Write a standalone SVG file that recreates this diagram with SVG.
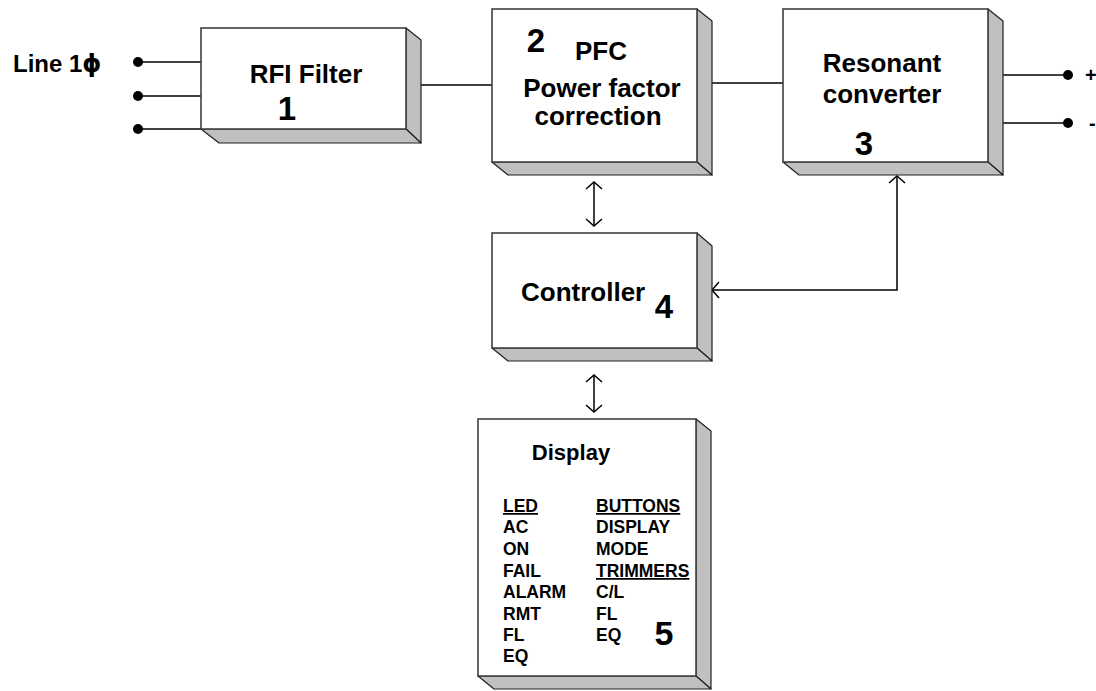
<svg xmlns="http://www.w3.org/2000/svg" width="1096" height="691" viewBox="0 0 1096 691">
  <style>
    .front { fill: #ffffff; stroke: #404040; stroke-width: 1.6; }
    .side { fill: #c0c0c0; stroke: #202020; stroke-width: 1.2; stroke-linejoin: round; }
    .wire { fill: none; stroke: #000000; stroke-width: 1.5; }
    .dot { fill: #000000; }
    .lbl { font-family: "Liberation Sans", Arial, sans-serif; font-weight: bold; fill: #000000; }
    .big { font-size: 26px; }
    .num { font-size: 33px; }
    .small { font-size: 17.5px; }
  </style>
  <defs>
    <marker id="chev" viewBox="-10 -10 20 20" refX="0" refY="0" markerWidth="20" markerHeight="20" markerUnits="userSpaceOnUse" orient="auto-start-reverse">
      <path d="M-7,-8 L0,0 L-7,8" fill="none" stroke="#000000" stroke-width="1.5"/>
    </marker>
  </defs>

  <!-- connectors -->
  <g id="connectors">
    <!-- single-phase input terminals -->
    <line class="wire" x1="138" y1="62" x2="201" y2="62"/>
    <line class="wire" x1="138" y1="96" x2="201" y2="96"/>
    <line class="wire" x1="138" y1="129" x2="201" y2="129"/>
    <circle class="dot" cx="138" cy="62" r="5"/>
    <circle class="dot" cx="138" cy="96" r="5"/>
    <circle class="dot" cx="138" cy="129" r="5"/>
    <!-- power path -->
    <line class="wire" x1="421" y1="85" x2="492" y2="85"/>
    <line class="wire" x1="712" y1="83" x2="783" y2="83"/>
    <!-- DC outputs -->
    <line class="wire" x1="1003" y1="75" x2="1068" y2="75"/>
    <line class="wire" x1="1003" y1="123" x2="1068" y2="123"/>
    <circle class="dot" cx="1068" cy="75" r="5"/>
    <circle class="dot" cx="1068" cy="123" r="5"/>
    <!-- control links -->
    <line class="wire" x1="594" y1="182" x2="594" y2="226" marker-start="url(#chev)" marker-end="url(#chev)"/>
    <line class="wire" x1="594" y1="375" x2="594" y2="412" marker-start="url(#chev)" marker-end="url(#chev)"/>
    <path class="wire" d="M897,176 L897,290 L712,290" marker-start="url(#chev)" marker-end="url(#chev)"/>
  </g>

  <!-- input label -->
  <text class="lbl" x="13" y="72" font-size="24">Line 1<tspan font-family="'DejaVu Sans', sans-serif">ϕ</tspan></text>
  <!-- output labels -->
  <text class="lbl" x="1085" y="82" font-size="20">+</text>
  <text class="lbl" x="1089" y="130" font-size="20">-</text>

  <!-- 1: RFI filter -->
  <g id="rfi-filter">
    <polygon class="side" points="406,28 421,40 421,143 406,129"/>
    <polygon class="side" points="201,129 219,143 421,143 406,129"/>
    <rect class="front" x="201" y="28" width="205" height="101"/>
    <text class="lbl big" x="306" y="83" text-anchor="middle">RFI Filter</text>
    <text class="lbl num" x="287" y="120" text-anchor="middle">1</text>
  </g>

  <!-- 2: power factor correction -->
  <g id="pfc">
    <polygon class="side" points="697,9 712,21 712,175 697,162"/>
    <polygon class="side" points="492,162 508,175 712,175 697,162"/>
    <rect class="front" x="492" y="9" width="205" height="153"/>
    <text class="lbl num" x="536" y="52" text-anchor="middle">2</text>
    <text class="lbl big" x="601" y="60" text-anchor="middle">PFC</text>
    <text class="lbl big" x="602" y="97" text-anchor="middle">Power factor</text>
    <text class="lbl big" x="598" y="125" text-anchor="middle">correction</text>
  </g>

  <!-- 3: resonant converter -->
  <g id="resonant-converter">
    <polygon class="side" points="988,9 1003,21 1003,175 988,162"/>
    <polygon class="side" points="783,162 799,175 1003,175 988,162"/>
    <rect class="front" x="783" y="9" width="205" height="153"/>
    <text class="lbl big" x="882" y="72" text-anchor="middle">Resonant</text>
    <text class="lbl big" x="882" y="103" text-anchor="middle">converter</text>
    <text class="lbl num" x="864" y="155" text-anchor="middle">3</text>
  </g>

  <!-- 4: controller -->
  <g id="controller">
    <polygon class="side" points="697,233 712,246 712,361 697,348"/>
    <polygon class="side" points="492,348 508,361 712,361 697,348"/>
    <rect class="front" x="492" y="233" width="205" height="115"/>
    <text class="lbl big" x="521" y="301">Controller</text>
    <text class="lbl num" x="664" y="318" text-anchor="middle">4</text>
  </g>

  <!-- 5: display panel -->
  <g id="display">
    <polygon class="side" points="696,419 711,431 711,689 696,676"/>
    <polygon class="side" points="478,676 494,689 711,689 696,676"/>
    <rect class="front" x="478" y="419" width="218" height="257"/>
    <text class="lbl" x="571" y="460" font-size="22" text-anchor="middle">Display</text>
    <g class="lbl small">
      <text x="503" y="512" text-decoration="underline">LED</text>
      <text x="503" y="533">AC</text>
      <text x="503" y="555">ON</text>
      <text x="503" y="577">FAIL</text>
      <text x="503" y="598">ALARM</text>
      <text x="503" y="620">RMT</text>
      <text x="503" y="641">FL</text>
      <text x="503" y="662">EQ</text>
      <text x="596" y="512" text-decoration="underline">BUTTONS</text>
      <text x="596" y="533">DISPLAY</text>
      <text x="596" y="555">MODE</text>
      <text x="596" y="577" text-decoration="underline">TRIMMERS</text>
      <text x="596" y="598">C/L</text>
      <text x="596" y="620">FL</text>
      <text x="596" y="641">EQ</text>
    </g>
    <text class="lbl" x="664" y="645" font-size="34" text-anchor="middle">5</text>
  </g>
</svg>
